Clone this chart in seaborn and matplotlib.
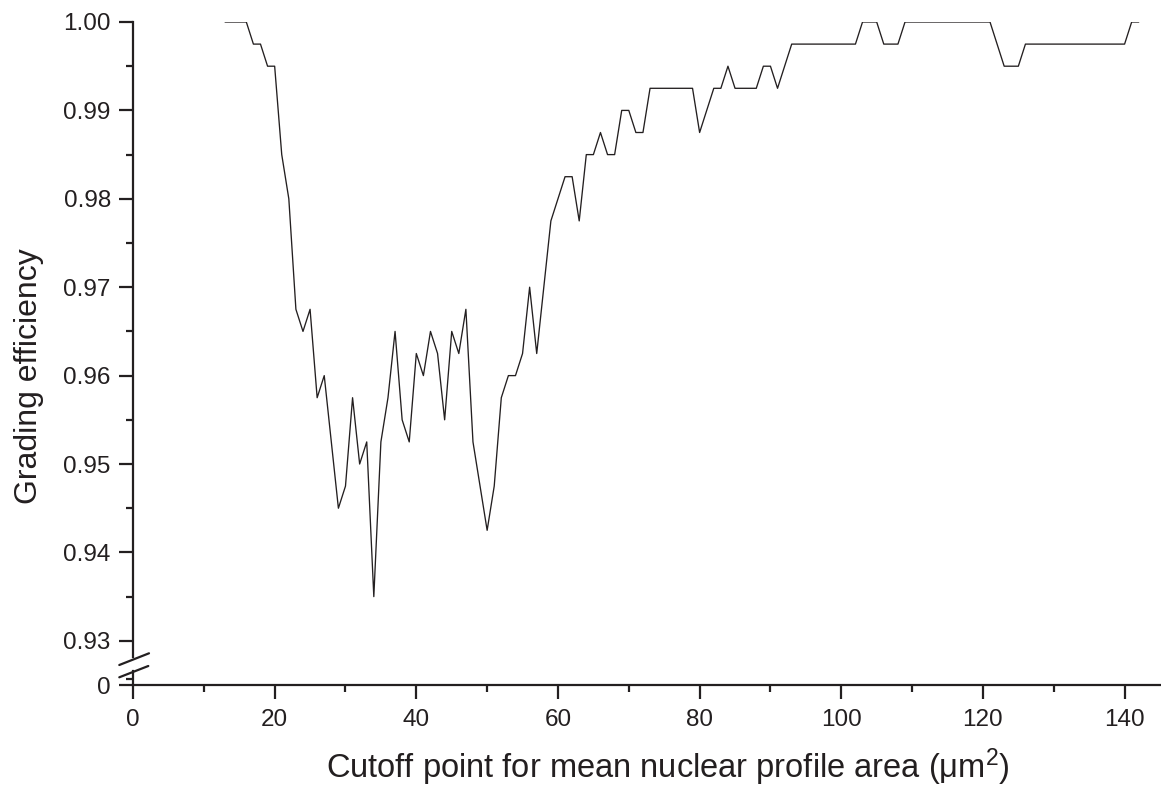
import matplotlib
matplotlib.use("Agg")
import matplotlib.pyplot as plt
from matplotlib.ticker import MultipleLocator, FixedLocator, FormatStrFormatter
from matplotlib.lines import Line2D
import seaborn as sns
import pandas as pd

# ---- data ----
cutoff = [13, 14, 15, 16, 17, 18, 19, 20, 21, 22, 23, 24, 25, 26, 27, 28, 29, 30,
          31, 32, 33, 34, 35, 36, 37, 38, 39, 40, 41, 42, 43, 44, 45, 46, 47, 48,
          49, 50, 51, 52, 53, 54, 55, 56, 57, 58, 59, 60, 61, 62, 63, 64, 65, 66,
          67, 68, 69, 70, 71, 72, 73, 74, 75, 76, 77, 78, 79, 80, 81, 82, 83, 84,
          85, 86, 87, 88, 89, 90, 91, 92, 93, 94, 95, 96, 97, 98, 99, 100, 101, 102,
          103, 104, 105, 106, 107, 108, 109, 110, 111, 112, 113, 114, 115, 116, 117,
          118, 119, 120, 121, 122, 123, 124, 125, 126, 127, 128, 129, 130, 131, 132,
          133, 134, 135, 136, 137, 138, 139, 140, 141, 142]
efficiency = [1.0, 1.0, 1.0, 1.0, 0.9975, 0.9975, 0.995, 0.995, 0.985, 0.98,
              0.9675, 0.965, 0.9675, 0.9575, 0.96, 0.9525, 0.945, 0.9475, 0.9575, 0.95,
              0.9525, 0.935, 0.9525, 0.9575, 0.965, 0.955, 0.9525, 0.9625, 0.96, 0.965,
              0.9625, 0.955, 0.965, 0.9625, 0.9675, 0.9525, 0.9475, 0.9425, 0.9475, 0.9575,
              0.96, 0.96, 0.9625, 0.97, 0.9625, 0.97, 0.9775, 0.98, 0.9825, 0.9825,
              0.9775, 0.985, 0.985, 0.9875, 0.985, 0.985, 0.99, 0.99, 0.9875, 0.9875,
              0.9925, 0.9925, 0.9925, 0.9925, 0.9925, 0.9925, 0.9925, 0.9875, 0.99, 0.9925,
              0.9925, 0.995, 0.9925, 0.9925, 0.9925, 0.9925, 0.995, 0.995, 0.9925, 0.995,
              0.9975, 0.9975, 0.9975, 0.9975, 0.9975, 0.9975, 0.9975, 0.9975, 0.9975, 0.9975,
              1.0, 1.0, 1.0, 0.9975, 0.9975, 0.9975, 1.0, 1.0, 1.0, 1.0,
              1.0, 1.0, 1.0, 1.0, 1.0, 1.0, 1.0, 1.0, 1.0, 0.9975,
              0.995, 0.995, 0.995, 0.9975, 0.9975, 0.9975, 0.9975, 0.9975, 0.9975, 0.9975,
              0.9975, 0.9975, 0.9975, 0.9975, 0.9975, 0.9975, 0.9975, 0.9975, 1.0, 1.0]
x_major_ticks = [0, 20, 40, 60, 80, 100, 120, 140]
y_major_ticks = [0.93, 0.94, 0.95, 0.96, 0.97, 0.98, 0.99, 1.00]
x_label = "Cutoff point for mean nuclear profile area (μm$^{\\mathregular{2}}$)"
y_label = "Grading efficiency"

df = pd.DataFrame({"cutoff": cutoff, "efficiency": efficiency})

INK = "#231f20"
sns.set_style("ticks")
plt.rcParams["font.family"] = ["Liberation Sans", "DejaVu Sans"]
plt.rcParams["mathtext.fontset"] = "custom"
plt.rcParams["mathtext.rm"] = "Liberation Sans"
plt.rcParams["mathtext.it"] = "Liberation Sans:italic"
plt.rcParams["mathtext.bf"] = "Liberation Sans:bold"
for k in ["text.color", "axes.labelcolor", "xtick.color", "ytick.color",
          "xtick.labelcolor", "ytick.labelcolor", "axes.edgecolor"]:
    plt.rcParams[k] = INK

W, H = 1161, 791
fig = plt.figure(figsize=(W / 100, H / 100), dpi=100)

left = 133 / W
width = (1160 - 133) / W
ax_top = fig.add_axes([left, 1 - 657 / H, width, (657 - 22) / H])
ax_bot = fig.add_axes([left, 1 - 685 / H, width, (685 - 671) / H], sharex=ax_top)

sns.lineplot(data=df, x="cutoff", y="efficiency", ax=ax_top, color=INK,
             linewidth=0.95)

spine_lw = 1.6
tick_fs = 17.5

# top axis
ax_top.set_xlim(0, 145)
ax_top.set_ylim(0.92817, 1.0)
ax_top.yaxis.set_major_locator(FixedLocator(y_major_ticks))
ax_top.yaxis.set_minor_locator(MultipleLocator(0.005))
ax_top.yaxis.set_major_formatter(FormatStrFormatter("%.2f"))
for s in ["top", "right", "bottom"]:
    ax_top.spines[s].set_visible(False)
ax_top.spines["left"].set_linewidth(spine_lw)
ax_top.tick_params(axis="x", which="both", bottom=False, labelbottom=False)
ax_top.tick_params(axis="y", which="major", length=10, width=spine_lw, direction="out",
                   labelsize=tick_fs, pad=6)
ax_top.tick_params(axis="y", which="minor", length=5, width=spine_lw, direction="out")
ax_top.set_xlabel("")
ax_top.set_ylabel(y_label, fontsize=23, va="baseline")
ax_top.yaxis.set_label_coords((37 - 133) / 1027, (657 - 376) / 635)

# bottom (broken) axis showing zero
ax_bot.set_ylim(0, 1)
ax_bot.yaxis.set_major_locator(FixedLocator([0]))
ax_bot.yaxis.set_minor_locator(FixedLocator([0.43]))
ax_bot.set_yticklabels(["0"])
ax_bot.xaxis.set_major_locator(FixedLocator(x_major_ticks))
ax_bot.xaxis.set_minor_locator(MultipleLocator(10))
for s in ["top", "right"]:
    ax_bot.spines[s].set_visible(False)
for s in ["left", "bottom"]:
    ax_bot.spines[s].set_linewidth(spine_lw)
ax_bot.tick_params(axis="both", which="major", length=10, width=spine_lw, direction="out",
                   labelsize=tick_fs)
ax_bot.tick_params(axis="x", which="major", pad=7)
ax_bot.tick_params(axis="y", which="major", pad=6)
ax_bot.tick_params(axis="both", which="minor", length=5, width=spine_lw, direction="out")
ax_bot.set_xlabel(x_label, fontsize=23.5, va="baseline")
ax_bot.xaxis.set_label_coords((668 - 133) / 1027, (685 - 778) / 14)

# axis-break marks
for (x0, y0, x1, y1) in [(119.3, 665, 149, 653.3), (119.3, 677.3, 148.3, 666)]:
    fig.add_artist(Line2D([x0 / W, x1 / W], [1 - y0 / H, 1 - y1 / H],
                          transform=fig.transFigure, color=INK, linewidth=1.6))

fig.savefig("out.png", dpi=100, facecolor="white")
